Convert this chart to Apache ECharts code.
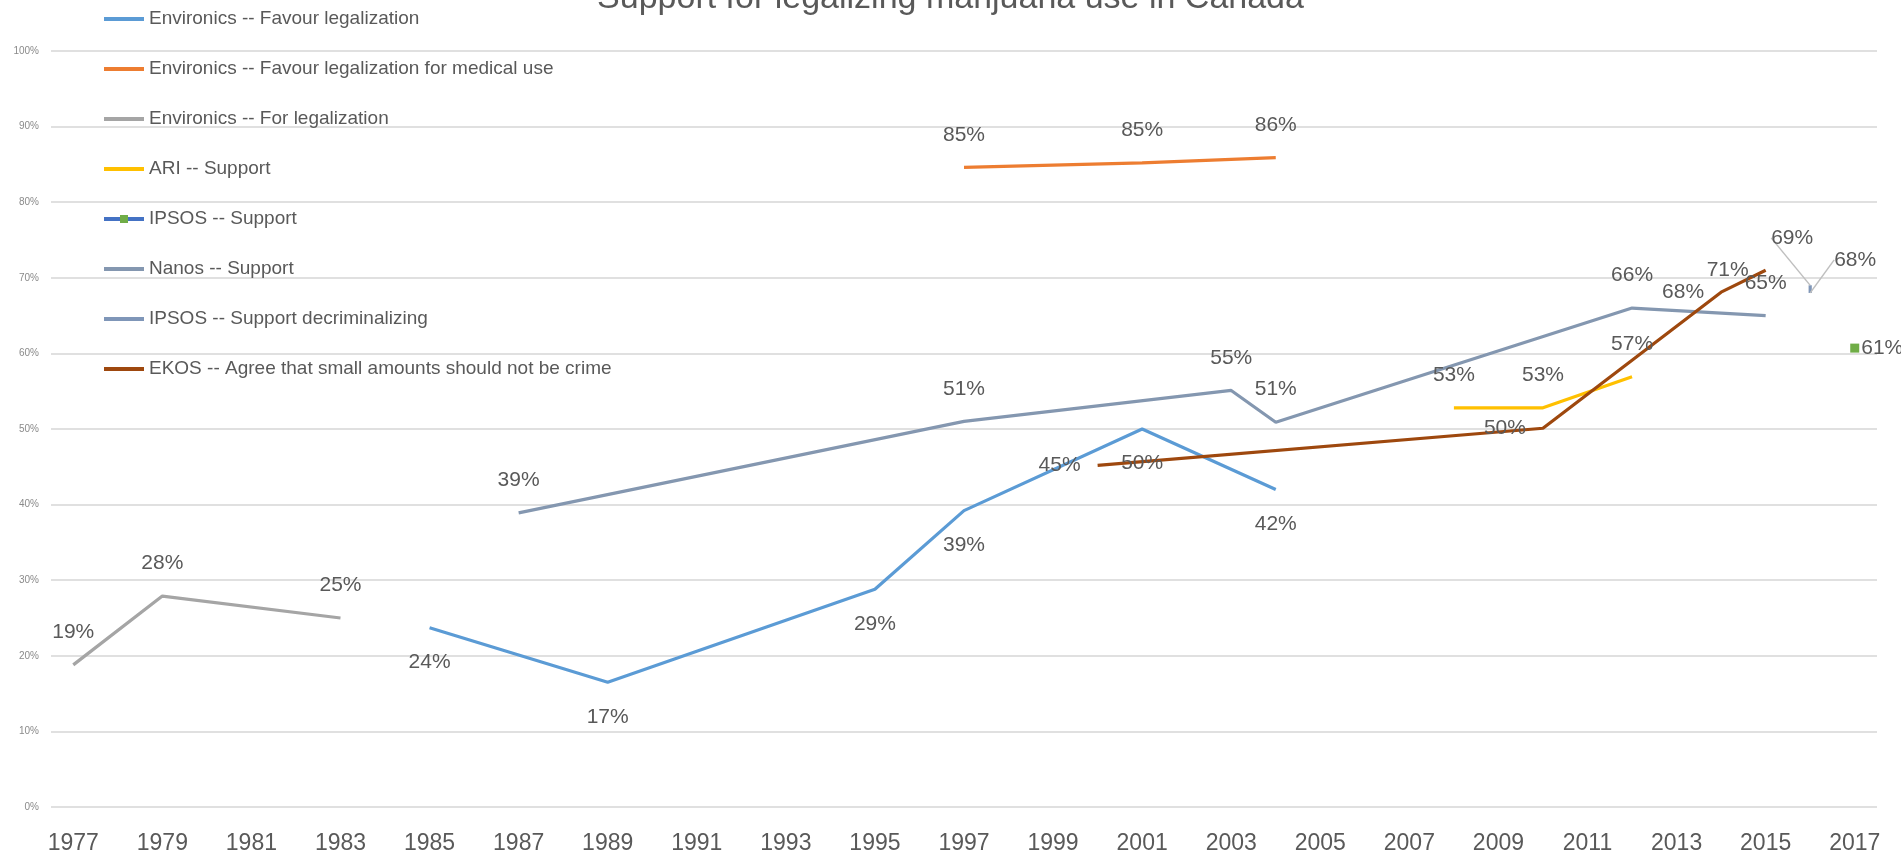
<!DOCTYPE html>
<html><head><meta charset="utf-8">
<script src="https://cdn.jsdelivr.net/npm/echarts@6/dist/echarts.min.js"></script>
<style>html,body{margin:0;padding:0;background:#fff}#c{width:1901px;height:857px}</style>
</head><body><div id="c"></div>
<script>
// ---- data ----
const years = ['1977','1978','1979','1980','1981','1982','1983','1984','1985','1986','1987','1988','1989','1990','1991','1992','1993','1994','1995','1996','1997','1998','1999','2000','2001','2002','2003','2004','2005','2006','2007','2008','2009','2010','2011','2012','2013','2014','2015','2016','2017'];

const envFavourYears = ['1985','1989','1995','1997','2001','2004'];
const envFavourVals  = [23.7, 16.5, 28.8, 39.2, 50.0, 42.0];

const envMedicalYears = ['1997','2001','2004'];
const envMedicalVals  = [84.6, 85.2, 85.9];

const envForYears = ['1977','1979','1983'];
const envForVals  = [18.8, 27.9, 25.0];

const ariYears = ['2008','2010','2012'];
const ariVals  = [52.8, 52.8, 56.9];

const ipsosYears = ['2017'];
const ipsosVals  = [60.7];

const nanosYears = ['1987','1997','2003','2004','2012','2015'];
const nanosVals  = [38.9, 51.0, 55.1, 50.9, 66.0, 65.0];

const decrimYears = ['2016','2016'];
const decrimVals  = [69.0, 68.0];

const ekosYears = ['2000','2010','2014','2015'];
const ekosVals  = [45.2, 50.1, 68.1, 71.0];

const names = [
  'Environics -- Favour legalization',
  'Environics -- Favour legalization for medical use',
  'Environics -- For legalization',
  'ARI -- Support',
  'IPSOS -- Support',
  'Nanos -- Support',
  'IPSOS -- Support decriminalizing',
  'EKOS -- Agree that small amounts should not be crime'
];

// ---- helpers ----
const zip = (xs, vs) => xs.map((x, i) => [x, vs[i]]);
const labelFont = {fontFamily: 'Liberation Sans', fontSize: 21, color: '#595959'};
const fmt = p => Math.round(p.value[1]) + '%';
function lineSeries(name, data, color, pos, dist, extra) {
  return Object.assign({
    name: name, type: 'line', data: data,
    symbol: 'circle', symbolSize: 0, showSymbol: true,
    lineStyle: {color: color, width: 3.2},
    itemStyle: {color: color},
    label: Object.assign({show: true, position: pos, distance: dist, formatter: fmt}, labelFont),
    emphasis: {disabled: true},
    animation: false
  }, extra || {});
}

const chart = echarts.init(document.getElementById('c'));
chart.setOption({
  backgroundColor: '#ffffff',
  animation: false,
  title: {
    text: 'Support for legalizing marijuana use in Canada',
    left: 'center', top: -18, padding: 0,
    textStyle: {fontFamily: 'Liberation Sans', fontSize: 34, fontWeight: 'normal', color: '#595959'}
  },
  legend: {
    orient: 'vertical', left: 102, top: 8, padding: 0,
    itemWidth: 40, itemHeight: 10, itemGap: 28,
    itemStyle: {opacity: 0},
    lineStyle: {width: 4},
    textStyle: {fontFamily: 'Liberation Sans', fontSize: 19, color: '#595959', lineHeight: 22},
    data: names.map(n => n === 'IPSOS -- Support' ? {name: n, itemStyle: {opacity: 1}} : {name: n})
  },
  grid: {left: 51, right: 24, top: 51, bottom: 50, containLabel: false},
  xAxis: {
    type: 'category', data: years, boundaryGap: true,
    axisLine: {show: false}, axisTick: {show: false},
    splitLine: {show: false},
    axisLabel: {interval: 1, margin: 25, fontFamily: 'Liberation Sans', fontSize: 23, color: '#595959'}
  },
  yAxis: {
    type: 'value', min: 0, max: 100, interval: 10,
    axisLine: {show: false}, axisTick: {show: false},
    splitLine: {lineStyle: {color: '#e0e0e0', width: 2}},
    axisLabel: {formatter: '{value}%', margin: 12, fontFamily: 'Liberation Sans', fontSize: 10, color: '#8a8a8a'}
  },
  series: [
    lineSeries(names[0], zip(envFavourYears, envFavourVals), '#5B9BD5', 'bottom', 24),
    lineSeries(names[1], zip(envMedicalYears, envMedicalVals), '#ED7D31', 'top', 22),
    lineSeries(names[2], zip(envForYears, envForVals), '#A5A5A5', 'top', 22),
    lineSeries(names[3], zip(ariYears, ariVals), '#FFC000', 'top', 22),
    lineSeries(names[4], zip(ipsosYears, ipsosVals), '#4472C4', 'right', 2, {
      symbol: 'rect', symbolSize: 9, itemStyle: {color: '#70AD47'}
    }),
    lineSeries(names[5], zip(nanosYears, nanosVals), '#8497B0', 'top', 22),
    lineSeries(names[6], zip(decrimYears, decrimVals).map((d, i) => ({
      value: d, label: {position: i === 0 ? 'top' : 'right'}
    })), '#7F96B8', 'top', 5, {
      labelLayout: p => p.dataIndex === 0 ? {dx: -18, dy: -32} : {dx: 19, dy: -33},
      labelLine: {show: true, lineStyle: {color: '#bfbfbf', width: 1.5}}
    }),
    lineSeries(names[7], zip(ekosYears, ekosVals), '#9E480E', 'left', 17)
  ]
});
</script></body></html>
